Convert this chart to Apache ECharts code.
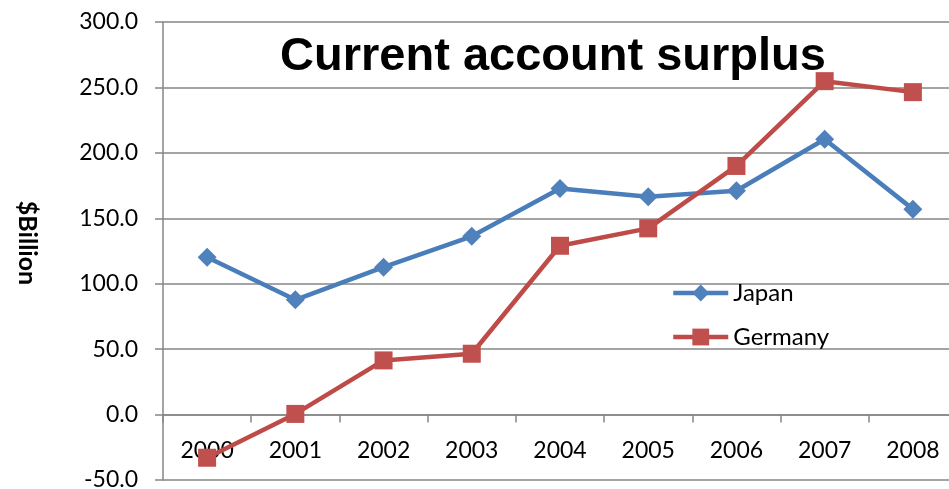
<!DOCTYPE html>
<html>
<head>
<meta charset="utf-8">
<script src="https://cdn.jsdelivr.net/npm/echarts@6/dist/echarts.min.js"></script>
<style>
  html, body { margin: 0; padding: 0; background: #fff; }
  #chart { width: 949px; height: 489px; }
</style>
</head>
<body>
<div id="chart"></div>
<script>
// Current account surplus, $ billion
var years = ['2000', '2001', '2002', '2003', '2004', '2005', '2006', '2007', '2008'];
var japan = [120.2, 87.7, 112.6, 136.2, 172.8, 166.4, 171.0, 210.4, 157.0];
var germany = [-33.0, 0.5, 41.4, 46.5, 129.0, 142.3, 190.0, 254.8, 246.4];
var yTicks = { min: -50, max: 300, step: 50 };

var labelFont = 'Lato, "Open Sans", sans-serif';
var gridColor = '#868686';

var chart = echarts.init(document.getElementById('chart'), null, { renderer: 'canvas' });
chart.setOption({
  animation: false,
  backgroundColor: '#ffffff',
  title: {
    text: 'Current account surplus',
    left: 548,
    textAlign: 'center',
    top: 29,
    textStyle: {
      fontFamily: '"Liberation Sans", Arial, sans-serif',
      fontWeight: 'bold',
      fontSize: 47,
      color: '#000'
    }
  },
  legend: {
    orient: 'vertical',
    left: 666,
    top: 276,
    itemWidth: 55,
    itemHeight: 21,
    itemGap: 20,
    lineStyle: { width: 4.5 },
    textStyle: { fontFamily: labelFont, fontSize: 24, color: '#000', lineHeight: 24 },
    data: ['Japan', 'Germany']
  },
  grid: { left: 163, right: -8, top: 22, bottom: 9, containLabel: false, outerBoundsMode: 'none' },
  xAxis: {
    type: 'category',
    data: years,
    boundaryGap: true,
    axisLine: { onZero: true, lineStyle: { color: gridColor, width: 1.5 } },
    axisTick: { show: true, length: 8, inside: false, lineStyle: { color: gridColor, width: 1.5 } },
    // category labels sit just under the zero line, above the bottom edge of the grid
    axisLabel: { interval: 0, margin: -41, fontFamily: labelFont, fontSize: 23, color: '#000' },
    splitLine: { show: false }
  },
  yAxis: {
    type: 'value',
    min: yTicks.min,
    max: yTicks.max,
    interval: yTicks.step,
    name: '$Billion',
    nameLocation: 'middle',
    nameRotate: -90,
    nameGap: 123,
    nameTextStyle: { fontFamily: labelFont, fontWeight: 'bold', fontSize: 25, color: '#000', padding: [0, 16, 0, 0] },
    axisLine: { show: true, lineStyle: { color: gridColor, width: 1.5 } },
    axisTick: { show: true, length: 8, lineStyle: { color: gridColor, width: 1.5 } },
    axisLabel: {
      margin: 25,
      fontFamily: labelFont,
      fontSize: 23,
      color: '#000',
      formatter: function (v) { return v.toFixed(1); }
    },
    splitLine: { show: true, lineStyle: { color: gridColor, width: 1.5 } }
  },
  series: [
    {
      name: 'Japan',
      type: 'line',
      data: japan,
      symbol: 'diamond',
      symbolSize: 19,
      showAllSymbol: true,
      color: '#4F81BD',
      lineStyle: { color: '#4A7EBB', width: 4.5 },
      itemStyle: { color: '#4F81BD', borderWidth: 0 }
    },
    {
      name: 'Germany',
      type: 'line',
      data: germany,
      symbol: 'rect',
      symbolSize: 18,
      showAllSymbol: true,
      color: '#C0504D',
      lineStyle: { color: '#BE4B48', width: 4.5 },
      itemStyle: { color: '#C0504D', borderWidth: 0 }
    }
  ]
});
</script>
</body>
</html>
